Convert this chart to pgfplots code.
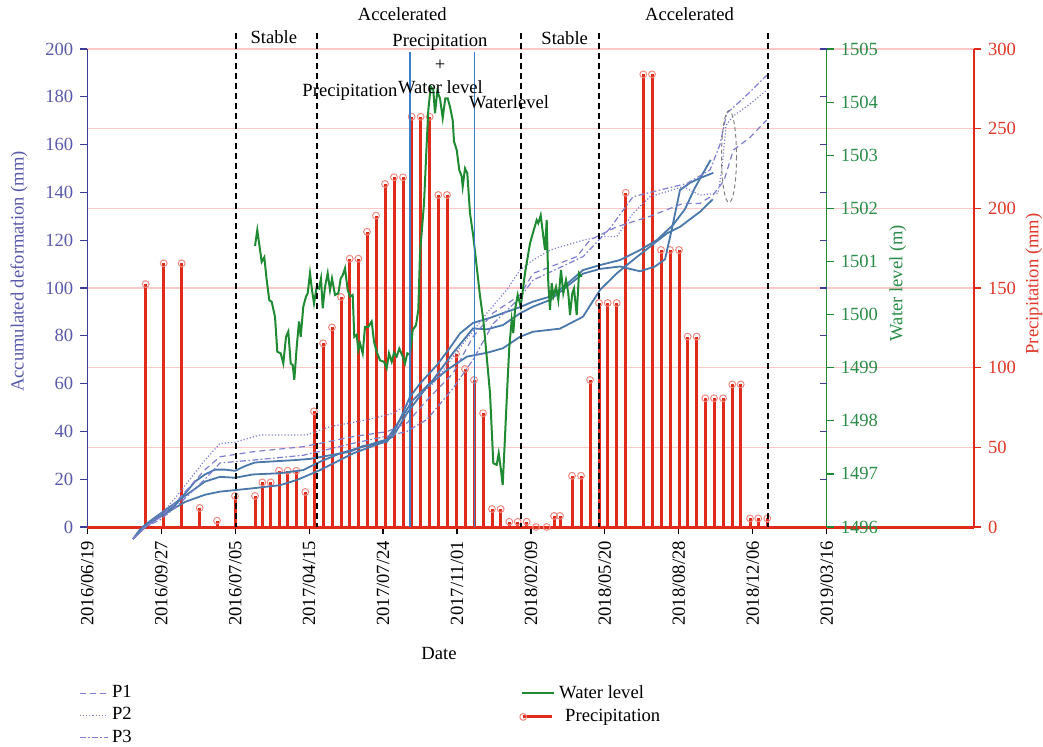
\documentclass[border=0pt]{standalone}
\usepackage{fontspec}
\setmainfont{Liberation Serif}
\usepackage{pgfplots}
\pgfplotsset{compat=1.18}

\definecolor{defblue}{HTML}{5A5AAA}
\definecolor{defaxis}{HTML}{3C3C96}
\definecolor{curveblue}{HTML}{4A78AA}
\definecolor{pline}{HTML}{7E7ED0}
\definecolor{wlgreen}{HTML}{1E8A32}
\definecolor{wltext}{HTML}{2A8C48}
\definecolor{prred}{HTML}{E02A1A}
\definecolor{prtext}{HTML}{E0382A}
\definecolor{markpink}{HTML}{F08A80}
\definecolor{gridpink}{HTML}{FFC8C8}
\definecolor{vblue}{HTML}{3A80C8}

\newcommand{\fs}{\fontsize{9.3}{11}\selectfont}

\pgfplotsset{
  /pgf/number format/assume math mode=true,
  every axis/.append style={
    scale only axis, height=239pt,
    at={(43.65pt,109.5pt)}, anchor=south west,
    tick label style={font=\fs},
    major tick length=3.5pt,
    tick align=outside,
    clip=false,
  },
  shortline/.style={legend image code/.code={\draw[##1] (0pt,0pt) -- (14pt,0pt);}},
  longline/.style={legend image code/.code={\draw[##1] (0pt,0pt) -- (16pt,0pt);}},
  preclegend/.style={legend image code/.code={
    \draw[prred, line width=1.5pt] (0.5pt,0pt) -- (15pt,0pt);
    \draw[markpink, line width=0.5pt] (0.5pt,0pt) circle (1.7pt);}},
}

% precipitation (mm)
\pgfplotstableread{
x v
145.7 152.5
163.7 165.5
181.7 165.5
199.7 12
217 4
235 19.5
255 19.5
262.3 28
270.7 28
279 35.3
287.7 35.3
296.3 35.3
305.3 22
314 72.6
323 115.3
332 125.3
341 144.4
349.7 168.4
358.3 168.4
367 185.3
376 195.4
385 215.3
394 219.5
403 219.5
411.7 257.5
420.7 257.5
429.7 257.5
438.3 208.4
447 208.4
456 108.6
465 99.2
474 92.3
483 71.4
492 11.3
500.7 11.3
509.3 3.3
517.7 3.3
526.7 3.3
536 0
546.7 0
554 7
560 7
572 32.2
581 32.2
590 92.3
599 140.6
607.7 140.6
616.7 140.6
625.7 209.8
643.3 284.1
652 284.1
661 173.9
670 173.9
679 173.9
687.7 119.5
696.7 119.5
705.3 80.8
714 80.8
723 80.8
732.3 89.5
740.7 89.5
750 5.4
758.3 5.4
767.3 5.4
}\precip

% water level (m)
\pgfplotstableread{
x v
255 1501.29
257.3 1501.59
261.7 1500.99
264.3 1501.08
266.7 1500.65
269.3 1500.27
271.7 1500.24
275 1499.96
277.3 1499.30
280.7 1499.27
283.3 1499.08
286 1499.58
288.3 1499.68
290.7 1499.08
292.7 1499.05
294.3 1498.77
296.7 1499.39
299 1499.87
300.7 1499.58
303.3 1500.15
306 1500.34
307.7 1500.40
310 1500.78
312 1500.46
314 1500.21
316.7 1500.52
319 1500.49
321 1500.68
322.7 1500.12
325 1500.52
327.7 1500.78
330 1500.46
332 1500.68
335 1500.37
338.3 1500.40
340.7 1500.68
342.7 1500.74
345 1500.87
347.7 1500.46
350 1500.34
352.7 1500.37
354.3 1499.58
356.7 1499.62
358.3 1499.33
360 1499.46
362.7 1499.27
365 1499.77
368.3 1499.77
371.7 1499.87
374 1499.49
376.7 1499.30
380 1499.14
384 1499.11
386.7 1498.99
389 1499.27
391.7 1499.11
394 1499.28
396.7 1499.21
399.3 1499.36
402.7 1499.21
405 1499.08
407.3 1499.27
410 1499.24
412.7 1499.71
416 1499.80
418.3 1500.09
420 1501.15
424 1502.09
426.7 1503.22
428.3 1503.85
430.7 1504.29
433.3 1504.23
435 1503.79
437.3 1504.20
440 1504.07
442.7 1503.70
445.3 1504.07
447.7 1504.07
450 1503.91
452.7 1503.66
454 1503.26
456.7 1503.10
459.3 1502.72
461.7 1502.60
462.7 1502.41
465 1502.75
467.3 1502.66
470 1501.91
473.3 1501.47
476.7 1500.90
480 1500.35
483.3 1499.90
486.7 1499.21
490 1498.52
493.3 1497.20
496.7 1497.17
498.7 1497.39
501 1497.07
502.7 1496.79
505 1497.70
507.3 1498.64
509.3 1499.39
511.7 1499.90
513.3 1499.65
515 1500.09
517.7 1500.37
520.7 1500.15
525 1500.78
530 1501.34
533.3 1501.56
536.7 1501.78
538.3 1501.72
540.7 1501.87
543.3 1501.47
545 1501.22
546.7 1501.78
548.3 1500.59
550 1500.09
551.7 1500.59
553.3 1500.34
556 1500.52
558.3 1500.27
561 1500.84
563.3 1500.40
566 1500.65
568.3 1500.40
570 1499.99
572.3 1500.40
574 1500.49
576.7 1499.99
579 1500.78
581.7 1500.71
}\water

% accumulated deformation (mm), measured curves
\pgfplotstableread{
x v
133 -5
140 -2
147 1
155 3
165 6
175 9
185 14
195 19
205 22
215 24
225 24
235 23.5
245 25.5
255 27
275 27.5
295 28
310 28.5
330 30
350 31.5
363 33.9
380 35
387 35.7
393 39.3
400 45
410 54.5
420 60
437 67.8
450 75
460 81
473 85.4
490 87.5
503 89.5
520 92
533 94.3
550 96.4
565 101
583 107.5
600 109.6
620 111.7
640 115.9
657 120.1
673 126.4
685 133
695 142
703 148
710.7 153.6
}\defU
\pgfplotstableread{
x v
133 -5
140 -1
147 1.5
155 4
165 7
175 10
185 13
195 16
205 19
220 21
235 20.6
253 22
280 22.5
303 23.8
320 27.3
340 30.8
363 33.6
387 36.7
400 44.8
413 53.1
433 61.5
453 72.8
473 83.1
487 82.7
503 84.5
520 89.4
533 92.2
550 95
583 106
600 108
620 109
640 107
655 109
665 112
672 125
680 141
690 144
700 146
713.3 148.2
}\defM
\pgfplotstableread{
x v
133 -5
140 -2
147 0.5
155 3
165 5.5
175 8
185 10.5
195 12
205 13.5
220 14.8
253 16.2
280 17.5
297 19.7
320 23.8
353 30.8
380 35
393 37.8
407 47.6
427 58.7
447 65.7
467 71.3
487 72.9
503 74.8
520 79.6
533 81.7
560 83
583 88
600 99.2
616.7 106.1
633 111.7
650 117.3
667 122.9
680 125.6
700 131.9
712.7 137.1
}\defL

% P1, P2, P3
\pgfplotstableread{
x v
133 -5
145 0
160 4
175 10
190 17
205 24
220 29.4
253 31.5
303 33.6
353 37.8
387 39.9
407 43.5
427 53.1
453 64.3
473 79.6
493 89.5
520 97
533 106.1
576.7 113.1
590 120.1
616.7 125.6
650 130
683 135.4
700 135.4
713 138.9
724 145
733.3 157.7
750 163
766.7 170.3
}\pOne
\pgfplotstableread{
x v
133 -5
145 0
160 5
175 12
190 20
205 28
220 35
235 35.5
260 38.5
306.7 38.5
330 42
366.7 44.8
393.3 47.6
410 52
433.3 60
460 75
486.7 89.4
506.7 99.2
520 107.5
533 111.7
550 115.9
583 120
600 121.5
616.7 121.5
633 131.2
650 138.2
683 142.4
700 138.9
718 139.7
722 150
726 168
733.3 172
750 177
766.7 182.8
}\pTwo
\pgfplotstableread{
x v
133 -5
145 0
160 3
175 8
190 14
205 20
220 26.8
253 28
303 30
353 35
387 38
407 40
427 45
453 58
473 70
493 85
520 96
533 103.3
583 113.1
610 125
633 138.2
666.7 141.7
686.7 143.7
710 149.4
720 160
726.7 173.1
745 180
766.7 189
}\pThree

\begin{document}
\begin{tikzpicture}
\path[use as bounding box] (0pt,0pt) rectangle (521.5pt,373pt);

% precipitation axis (right, red) with the date axis
\begin{axis}[
  width=443.35pt,
  xmin=87.3, xmax=974, ymin=0, ymax=300,
  axis x line*=bottom, axis y line*=right,
  x axis line style={prred, line width=1.5pt},
  y axis line style={prred, line width=0.6pt},
  xtick={87.3,161.24,235.18,309.12,383.06,457,530.94,604.88,678.82,752.76,826.7},
  xticklabels={2016/06/19,2016/09/27,2016/07/05,2017/04/15,2017/07/24,2017/11/01,2018/02/09,2018/05/20,2018/08/28,2018/12/06,2019/03/16},
  x tick style={black, line width=0.6pt},
  x tick label style={rotate=90, anchor=east, text=black},
  ytick={0,50,...,300},
  y tick style={prred, line width=0.6pt},
  y tick label style={text=prtext},
  ymajorgrids, grid style={gridpink, line width=0.8pt},
]
\addplot[ycomb, prred, line width=1.5pt, mark=o, mark size=1.7pt,
  mark options={draw=markpink, line width=0.5pt}] table[x=x, y=v] {\precip};
\end{axis}

% accumulated deformation axis (left, blue)
\begin{axis}[
  width=369.7pt,
  xmin=87.3, xmax=826.7, ymin=0, ymax=200,
  hide x axis, axis y line*=left,
  ytick={0,20,...,200},
  y axis line style={defaxis, line width=0.6pt},
  y tick style={defaxis, line width=0.6pt},
  y tick label style={text=defblue},
  legend style={at={(-0.02,-0.314)}, anchor=north west, draw=none, fill=none,
    font=\fs, row sep=-0.6pt},
  legend cell align=left,
]
\addplot[curveblue, line width=0.9pt, forget plot] table[x=x, y=v] {\defU};
\addplot[curveblue, line width=0.9pt, forget plot] table[x=x, y=v] {\defM};
\addplot[curveblue, line width=0.9pt, forget plot] table[x=x, y=v] {\defL};
\addplot[pline, line width=0.6pt, shortline, dash pattern=on 3pt off 2pt] table[x=x, y=v] {\pOne};
\addlegendentry{P1}
\addplot[pline, line width=0.6pt, shortline, dash pattern=on 0.6pt off 1pt] table[x=x, y=v] {\pTwo};
\addlegendentry{P2}
\addplot[pline, line width=0.6pt, shortline, dash pattern=on 3pt off 1.2pt on 0.8pt off 1.2pt] table[x=x, y=v] {\pThree};
\addlegendentry{P3}
\end{axis}

% water level axis (right, green)
\begin{axis}[
  width=369.7pt,
  xmin=87.3, xmax=826.7, ymin=1496, ymax=1505,
  hide x axis, axis y line*=right,
  ytick={1496,...,1505},
  y axis line style={wlgreen, line width=0.6pt},
  y tick style={wlgreen, line width=0.6pt},
  y tick label style={text=wltext, /pgf/number format/1000 sep={}},
  extra y ticks={1496.9,1497.8,1498.7,1499.6,1500.5,1501.4,1502.3,1503.2,1504.1,1505},
  extra y tick labels={},
  extra y tick style={tick align=inside, y tick style={defaxis, line width=0.6pt}},
  legend style={at={(0.5756,-0.3137)}, anchor=north west, draw=none, fill=none,
    font=\fs, row sep=0pt},
  legend cell align=left,
]
\addplot[wlgreen, line width=1pt, longline] table[x=x, y=v] {\water};
\addlegendentry{Water level}
\addlegendimage{preclegend}
\addlegendentry{\hspace{3pt}Precipitation}
\end{axis}

% stage boundaries, annotations and axis titles (pixel grid)
\begin{scope}[x=0.5pt, y=-0.5pt, shift={(0pt,373pt)}]
  \foreach \xx in {235.7,317,520.8,598.7,768.3}
    \draw[black, line width=1pt, dash pattern=on 3pt off 2pt] (\xx,33) -- (\xx,527);
  \foreach \xx in {410,474.7}
    \draw[vblue, line width=0.7pt] (\xx,52) -- (\xx,527);
  \draw[gray, line width=0.5pt, dash pattern=on 2pt off 1.5pt] (729,156.5) ellipse [x radius=7.5, y radius=46];
  \begin{scope}[every node/.style={font=\fs, inner sep=0pt}]
    \node at (402.3,14) {Accelerated};
    \node at (689.5,14) {Accelerated};
    \node at (273.8,37.5) {Stable};
    \node at (564.7,38) {Stable};
    \node at (440,42.5) {Precipitation};
    \node at (440,65) {+};
    \node at (440.5,87.5) {Water level};
    \node at (350,92.5) {Precipitation};
    \node at (509,102.5) {Waterlevel};
    \node at (439,653) {Date};
    \node[rotate=90, text=defblue] at (19,271.5) {Accumulated deformation (mm)};
    \node[rotate=90, text=wltext] at (898,283) {Water level (m)};
    \node[rotate=90, text=prtext] at (1034,284) {Precipitation (mm)};
  \end{scope}
\end{scope}
\end{tikzpicture}
\end{document}
